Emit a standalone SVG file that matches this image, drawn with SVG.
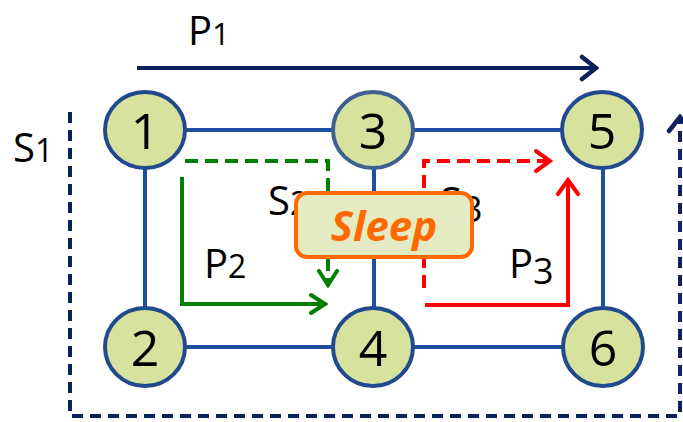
<svg xmlns="http://www.w3.org/2000/svg" width="683" height="422" viewBox="0 0 683 422">
<defs>
<style>
.edge{stroke:#1f4fa0;stroke-width:4;fill:none}
.node ellipse{fill:#d6e29e;stroke:#1f4a8f;stroke-width:4}
.node text{font-family:"Open Sans","Liberation Sans",sans-serif;font-size:50px;fill:#000;text-anchor:middle}
.lbl{font-family:"Open Sans","Liberation Sans",sans-serif;font-size:40px;fill:#000}
.path{fill:none;stroke-width:4;stroke-linejoin:miter}
</style>
<marker id="aNavy" viewBox="0 0 20 28" refX="18" refY="14" markerWidth="20" markerHeight="28" markerUnits="userSpaceOnUse" orient="auto"><path d="M3,3 L17,14 L3,25" fill="none" stroke="#0a215e" stroke-width="4.5" stroke-linecap="round"/></marker>
<marker id="aGreen" viewBox="0 0 20 24" refX="18" refY="12" markerWidth="20" markerHeight="24" markerUnits="userSpaceOnUse" orient="auto"><path d="M3,3 L17,12 L3,21" fill="none" stroke="#008000" stroke-width="4" stroke-linecap="round"/></marker>
<marker id="aRed" viewBox="0 0 20 26" refX="18" refY="13" markerWidth="20" markerHeight="26" markerUnits="userSpaceOnUse" orient="auto"><path d="M3,3 L17,13 L3,23" fill="none" stroke="#ff0000" stroke-width="4" stroke-linecap="round"/></marker>
</defs>
<rect width="683" height="422" fill="#fff"/>
<g id="connectors">
<line class="edge" x1="145" y1="130" x2="373" y2="130"/>
<line class="edge" x1="373" y1="130" x2="602" y2="130"/>
<line class="edge" x1="145" y1="347" x2="373" y2="347"/>
<line class="edge" x1="373" y1="347" x2="603" y2="347"/>
<line class="edge" x1="145" y1="130" x2="145" y2="347"/>
<line class="edge" x1="374" y1="130" x2="374" y2="347"/>
<line class="edge" x1="603" y1="130" x2="603" y2="347"/>
<line class="path" stroke="#0a215e" stroke-width="4.5" x1="137" y1="68" x2="597" y2="68" marker-end="url(#aNavy)"/>
<path class="path" stroke="#0a215e" stroke-width="4.5" stroke-dasharray="11 7" d="M70,112 V416 H680 V116" marker-end="url(#aNavy)"/>
<path class="path" stroke="#008000" d="M182,177 V304 H326" marker-end="url(#aGreen)"/>
<path class="path" stroke="#008000" stroke-dasharray="13 7" d="M185,161 H328 V286" marker-end="url(#aGreen)"/>
<path class="path" stroke="#ff0000" stroke-dasharray="13 7" d="M424,288 V161 H551" marker-end="url(#aRed)"/>
<path class="path" stroke="#ff0000" d="M425,305 H568 V179" marker-end="url(#aRed)"/>
</g>
<g id="labels">
<text class="lbl" x="188" y="45" font-size="38">P<tspan font-size="31">1</tspan></text>
<text class="lbl" x="13" y="162">S<tspan font-size="32">1</tspan></text>
<text class="lbl" x="204" y="278">P<tspan font-size="32">2</tspan></text>
<text class="lbl" x="509" y="278">P<tspan font-size="36" dy="6">3</tspan></text>
<text class="lbl" x="268" y="215">S<tspan font-size="32">2</tspan></text>
<text class="lbl" x="440" y="216">S<tspan font-size="36" dy="6">3</tspan></text>
</g>
<g id="sleep">
<rect x="296" y="193" width="176" height="64" rx="11" fill="#e4eac2" stroke="#ff6a00" stroke-width="4"/>
<text x="384" y="241" font-family="'Open Sans','Liberation Sans',sans-serif" font-size="42" font-weight="bold" font-style="italic" fill="#ff6a00" text-anchor="middle">Sleep</text>
</g>
<g id="node1" class="node"><ellipse cx="145" cy="130" rx="40" ry="38"/><text x="145" y="149">1</text></g>
<g id="node3" class="node"><ellipse cx="373" cy="130" rx="40" ry="38" style="stroke:#3d6090"/><text x="373" y="149">3</text></g>
<g id="node5" class="node"><ellipse cx="602" cy="130" rx="40" ry="38"/><text x="602" y="149">5</text></g>
<g id="node2" class="node"><ellipse cx="145" cy="347" rx="40" ry="39"/><text x="145" y="366">2</text></g>
<g id="node4" class="node"><ellipse cx="373" cy="347" rx="40" ry="39"/><text x="373" y="366">4</text></g>
<g id="node6" class="node"><ellipse cx="603" cy="347" rx="40" ry="39"/><text x="603" y="366">6</text></g>
</svg>
